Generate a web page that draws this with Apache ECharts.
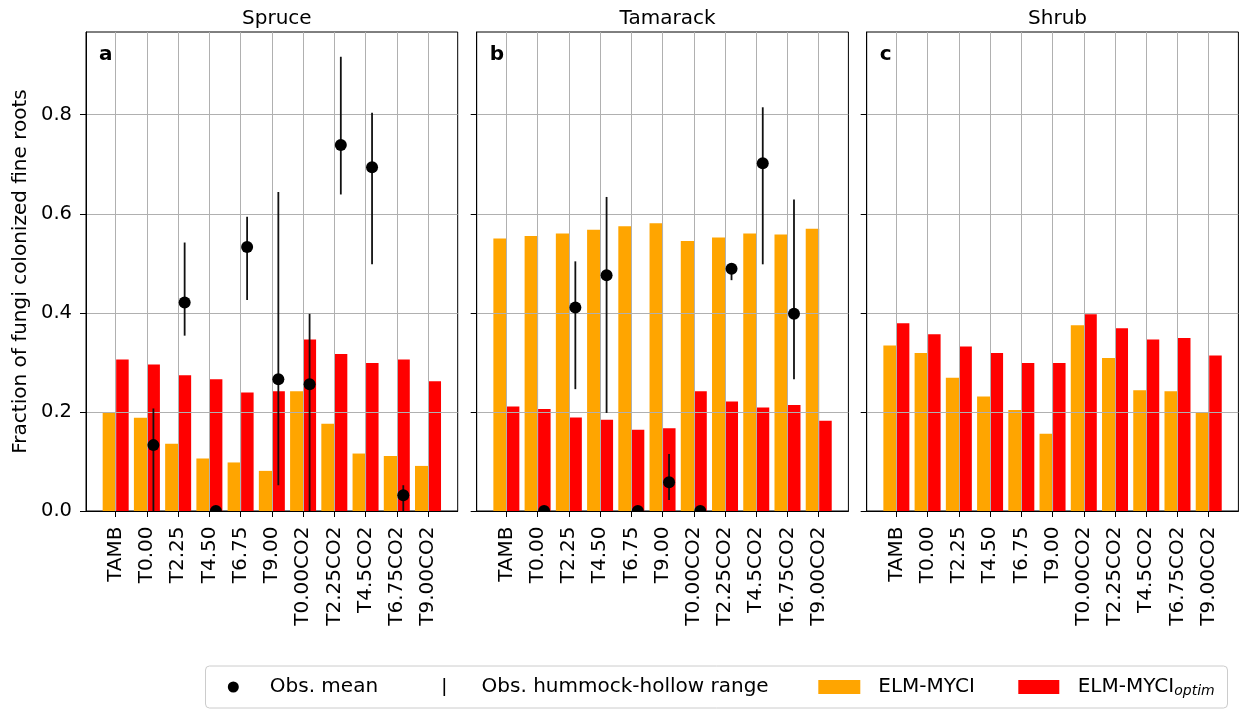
<!DOCTYPE html>
<html><head><meta charset="utf-8">
<script src="https://cdn.jsdelivr.net/npm/echarts@6/dist/echarts.min.js"></script>
<style>html,body{margin:0;padding:0;background:#fff}#c{width:1239px;height:710px}</style>
</head><body><div id="c"></div>
<script>
const categories = ['TAMB','T0.00','T2.25','T4.50','T6.75','T9.00','T0.00CO2','T2.25CO2','T4.5CO2','T6.75CO2','T9.00CO2'];
const panelTitles = ['Spruce','Tamarack','Shrub'];
const panelLetters = ['a','b','c'];
const yTicks = [0, 0.2, 0.4, 0.6, 0.8];

const spruceElm   = [0.199,0.188,0.136,0.106,0.098,0.081,0.242,0.176,0.116,0.111,0.091];
const spruceOptim = [0.306,0.296,0.274,0.266,0.239,0.242,0.346,0.317,0.299,0.306,0.262];
const spruceObsMean = [null,0.133,0.421,0.0,0.533,0.266,0.256,0.739,0.694,0.032,null];
const spruceObsLow  = [null,0.0,0.354,0.0,0.426,0.052,0.0,0.639,0.498,0.0,null];
const spruceObsHigh = [null,0.207,0.542,0.0,0.594,0.644,0.398,0.917,0.804,0.052,null];

const tamarackElm   = [0.550,0.555,0.560,0.568,0.575,0.581,0.545,0.552,0.560,0.558,0.570];
const tamarackOptim = [0.211,0.206,0.189,0.184,0.164,0.167,0.242,0.221,0.209,0.214,0.182];
const tamarackObsMean = [null,0.0,0.411,0.476,0.0,0.058,0.0,0.489,0.702,0.398,null];
const tamarackObsLow  = [null,0.0,0.246,0.198,0.0,0.022,0.0,0.466,0.498,0.266,null];
const tamarackObsHigh = [null,0.0,0.504,0.634,0.0,0.115,0.0,0.495,0.815,0.629,null];

const shrubElm   = [0.334,0.319,0.269,0.231,0.204,0.156,0.375,0.309,0.244,0.242,0.199];
const shrubOptim = [0.379,0.357,0.332,0.319,0.299,0.299,0.397,0.369,0.346,0.349,0.314];
const shrubObsMean = [null,null,null,null,null,null,null,null,null,null,null];
const shrubObsLow  = [null,null,null,null,null,null,null,null,null,null,null];
const shrubObsHigh = [null,null,null,null,null,null,null,null,null,null,null];

const panelElm = [spruceElm, tamarackElm, shrubElm];
const panelOptim = [spruceOptim, tamarackOptim, shrubOptim];
const panelMean = [spruceObsMean, tamarackObsMean, shrubObsMean];
const panelLow = [spruceObsLow, tamarackObsLow, shrubObsLow];
const panelHigh = [spruceObsHigh, tamarackObsHigh, shrubObsHigh];

const FONT = 'DejaVu Sans';
const gridLefts = [86, 476.7, 866.7];
const gridW = 371.7, gridTop = 32, gridH = 479;
const ORANGE = '#FFA500', RED = '#FF0000';
const catIdx = categories.map((c, i) => i);
const DOT_DX = 6.5;

const grid = [], xAxis = [], yAxis = [], series = [], title = [];
for (let k = 0; k < 3; k++) {
  grid.push({left: gridLefts[k], top: gridTop, width: gridW, height: gridH, show: true,
    borderColor: '#000', borderWidth: 1, backgroundColor: '#fff', containLabel: false});
  xAxis.push({type: 'value', gridIndex: k, min: -0.95, max: 10.95, splitNumber: 12, z: 3,
    axisLine: {show: true, onZero: false, lineStyle: {color: '#000', width: 1}},
    axisTick: {show: true, length: 6, customValues: catIdx, lineStyle: {color: '#000', width: 1}},
    axisLabel: {show: true, rotate: 90, margin: 15.5, customValues: catIdx,
      formatter: v => (Number.isInteger(v) && categories[v]) ? categories[v] : '',
      fontFamily: FONT, fontSize: 20, color: '#000'},
    splitLine: {show: true, lineStyle: {color: '#b0b0b0', width: 1}}
  });
  yAxis.push({type: 'value', gridIndex: k, min: 0, max: 0.967, splitNumber: 5, z: 3,
    name: k === 0 ? 'Fraction of fungi colonized fine roots' : '',
    nameLocation: 'middle', nameGap: 55,
    nameTextStyle: {fontFamily: FONT, fontSize: 20, color: '#000'},
    axisLine: {show: true, onZero: false, lineStyle: {color: '#000', width: 1}},
    axisTick: {show: true, length: 6, customValues: yTicks, lineStyle: {color: '#000', width: 1}},
    axisLabel: {show: k === 0, margin: 14, customValues: yTicks, formatter: v => v.toFixed(1),
      fontFamily: FONT, fontSize: 19.5, color: '#000'},
    splitLine: {show: true, lineStyle: {color: '#b0b0b0', width: 1}}
  });
  title.push({text: panelTitles[k], left: gridLefts[k] + gridW / 2, top: 4, textAlign: 'center',
    textStyle: {fontFamily: FONT, fontSize: 20, fontWeight: 'normal', color: '#000'}});
  title.push({text: panelLetters[k], left: gridLefts[k] + 8, top: 40,
    textStyle: {fontFamily: FONT, fontSize: 20, fontWeight: 'bold', color: '#000'}});

  series.push({name: 'ELM-MYCI', type: 'bar', xAxisIndex: k, yAxisIndex: k, z: 2,
    barWidth: 13.5, barGap: '0%', itemStyle: {color: ORANGE},
    data: panelElm[k].map((v, i) => [i, v])});
  series.push({name: 'ELM-MYCI_optim', type: 'bar', xAxisIndex: k, yAxisIndex: k, z: 2,
    barWidth: 12.5, barGap: '0%', itemStyle: {color: RED},
    data: panelOptim[k].map((v, i) => [i, v])});

  const rng = [];
  panelLow[k].forEach((lo, i) => { if (lo !== null && panelHigh[k][i] !== null) rng.push([i, lo, panelHigh[k][i]]); });
  series.push({name: 'Obs. hummock-hollow range', type: 'custom', xAxisIndex: k, yAxisIndex: k, z: 5, clip: true,
    encode: {x: 0, y: [1, 2]}, data: rng,
    renderItem: (params, api) => {
      const a = api.coord([api.value(0), api.value(1)]);
      const b = api.coord([api.value(0), api.value(2)]);
      return {type: 'line', shape: {x1: a[0] + DOT_DX, y1: a[1], x2: b[0] + DOT_DX, y2: b[1]},
        style: {stroke: '#111', lineWidth: 1.8}};
    }});
  const pts = [];
  panelMean[k].forEach((m, i) => { if (m !== null) pts.push([i, m]); });
  series.push({name: 'Obs. mean', type: 'custom', xAxisIndex: k, yAxisIndex: k, z: 6, clip: true,
    encode: {x: 0, y: 1}, data: pts,
    renderItem: (params, api) => {
      const p = api.coord([api.value(0), api.value(1)]);
      return {type: 'circle', shape: {cx: p[0] + DOT_DX, cy: p[1], r: 6}, style: {fill: '#000'}};
    }});
}

const legTop = 676;
const baseText = {fontFamily: FONT, fontSize: 20, color: '#000', lineHeight: 22};
const legend = [
  {data: [{name: 'Obs. mean', icon: 'circle', itemStyle: {color: '#000'}}],
   left: 227.8, top: legTop, padding: 0, itemWidth: 11, itemHeight: 11, selectedMode: false,
   textStyle: Object.assign({}, baseText, {padding: [0, 0, 0, 26]})},
  {data: [{name: 'Obs. hummock-hollow range', icon: 'rect', itemStyle: {color: '#000'}}],
   left: 443.5, top: legTop, padding: 0, itemWidth: 1.6, itemHeight: 18, selectedMode: false,
   textStyle: Object.assign({}, baseText, {padding: [0, 0, 0, 31.5]})},
  {data: [{name: 'ELM-MYCI', icon: 'rect', itemStyle: {color: ORANGE}}],
   left: 818.3, top: legTop, padding: 0, itemWidth: 42, itemHeight: 14, selectedMode: false,
   textStyle: Object.assign({}, baseText, {padding: [0, 0, 0, 13]})},
  {data: [{name: 'ELM-MYCI_optim', icon: 'rect', itemStyle: {color: RED}}],
   left: 1018.3, top: legTop, padding: 0, itemWidth: 41, itemHeight: 14, selectedMode: false,
   formatter: () => '{n|ELM-MYCI}{s|optim}',
   textStyle: Object.assign({}, baseText, {padding: [0, 0, 0, 13.4],
     rich: {n: {fontFamily: FONT, fontSize: 20, color: '#000', lineHeight: 22},
            s: {fontFamily: FONT, fontSize: 14, fontStyle: 'italic', color: '#000', lineHeight: 14, verticalAlign: 'bottom'}}})}
];

const chart = echarts.init(document.getElementById('c'), null, {renderer: 'canvas'});
chart.setOption({
  animation: false,
  backgroundColor: '#fff',
  title, grid, xAxis, yAxis, series, legend,
  graphic: [{type: 'rect', z: -1, shape: {x: 205.5, y: 666, width: 1022, height: 42, r: 4},
    style: {fill: '#fff', stroke: '#cccccc', lineWidth: 1}}]
});
</script></body></html>
